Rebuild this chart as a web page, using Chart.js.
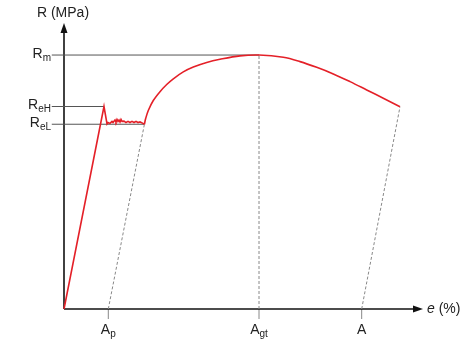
<!DOCTYPE html>
<html>
<head>
<meta charset="utf-8">
<script src="https://cdn.jsdelivr.net/npm/chart.js@4"></script>
<style>
  html, body { margin: 0; padding: 0; background: #fff; }
  #wrap { width: 469px; height: 341px; }
</style>
</head>
<body>
<div id="wrap"><canvas id="c" width="469" height="341"></canvas></div>
<script>
// Strain (e, arbitrary % units) and stress (R, arbitrary MPa units)
const elasticPlateauE = [0, 11.14, 11.98, 12.26, 12.81, 13.37, 13.65, 14.21, 14.48, 14.76, 15.04, 15.32, 15.60, 15.88, 16.16, 16.71, 17.27, 17.83, 18.38, 18.94, 19.50, 20.06, 20.61, 21.17, 22.01, 22.40];
const elasticPlateauR = [0, 70.8, 64.7, 65.2, 64.9, 65.6, 65.2, 66.1, 65.4, 66.3, 65.6, 66.1, 65.4, 66.3, 65.6, 65.7, 65.2, 65.6, 65.2, 65.6, 65.2, 65.6, 65.2, 65.4, 64.9, 64.6];
const hardeningE = [22.40, 22.75, 23.48, 24.87, 26.74, 28.61, 30.45, 33.23, 36.02, 39.75, 43.45, 49.03, 54.32, 61.09, 65.74, 70.39, 75.01, 79.67, 84.32, 88.94, 93.59];
const hardeningR = [64.6, 66.6, 69.4, 72.9, 76.0, 78.5, 80.5, 82.9, 84.6, 86.2, 87.3, 88.5, 88.8, 88.0, 86.5, 84.5, 82.2, 79.5, 76.6, 73.7, 70.7];

// Characteristic stresses
const stressNames = ['R', 'R', 'R'];
const stressSubs = ['m', 'eH', 'eL'];
const stressValues = [88.8, 70.8, 64.6];
const stressLineEnds = [54.32, 11.14, 22.40];

// Characteristic elongations (x tick labels)
const strainNames = ['A', 'A', 'A'];
const strainSubs = ['p', 'gt', ''];
const strainValues = [12.34, 54.32, 82.92];
const unloadFromE = [22.40, 54.32, 93.59];
const unloadFromR = [64.6, 88.8, 70.7];

const yAxisTitle = 'R (MPa)';
const xAxisTitleItalic = 'e';
const xAxisTitleRest = ' (%)';

const RED = 'rgb(228,32,40)';
const GUIDE = '#555';
const DASH = '#888';
const FONT = '"Liberation Sans", Arial, sans-serif';

function pts(xs, ys) { return xs.map((x, i) => ({ x: x, y: ys[i] })); }

const datasets = [];
datasets.push({ data: pts(elasticPlateauE, elasticPlateauR), borderColor: RED, borderWidth: 1.6, tension: 0, pointRadius: 0, order: 0, clip: false });
datasets.push({ data: pts(hardeningE, hardeningR), borderColor: RED, borderWidth: 1.6, tension: 0.35, pointRadius: 0, order: 0, clip: false });
stressValues.forEach((v, i) => {
  datasets.push({ data: [{ x: -3.4, y: v }, { x: stressLineEnds[i], y: v }], borderColor: GUIDE, borderWidth: 1, pointRadius: 0, order: 2, clip: false });
});
strainValues.forEach((v, i) => {
  datasets.push({ data: [{ x: v, y: 0 }, { x: unloadFromE[i], y: unloadFromR[i] }], borderColor: DASH, borderWidth: 1, borderDash: [3, 2], pointRadius: 0, order: 2, clip: false });
});

function drawSub(ctx, main, sub, x, y, align) {
  const mainFont = '14px ' + FONT;
  const subFont = '10px ' + FONT;
  ctx.font = mainFont;
  const wm = ctx.measureText(main).width;
  ctx.font = subFont;
  const ws = sub ? ctx.measureText(sub).width : 0;
  const total = wm + ws;
  let left = x;
  if (align === 'center') left = x - total / 2;
  else if (align === 'right') left = x - total;
  ctx.textAlign = 'left';
  ctx.textBaseline = 'middle';
  ctx.fillStyle = '#222';
  ctx.font = mainFont;
  ctx.fillText(main, left, y);
  if (sub) {
    ctx.font = subFont;
    ctx.fillText(sub, left + wm, y + 4);
  }
}

const decor = {
  id: 'decor',
  beforeDatasetsDraw(chart) {
    const ctx = chart.ctx;
    const xs = chart.scales.x, ys = chart.scales.y;
    const x0 = xs.getPixelForValue(0), y0 = ys.getPixelForValue(0);
    const xEnd = xs.getPixelForValue(100), yTop = ys.getPixelForValue(100);
    ctx.save();
    ctx.strokeStyle = DASH;
    ctx.lineWidth = 1;
    strainValues.forEach(v => {
      const px = xs.getPixelForValue(v);
      ctx.beginPath(); ctx.moveTo(px, y0); ctx.lineTo(px, y0 + 10); ctx.stroke();
    });
    ctx.strokeStyle = '#111';
    ctx.lineWidth = 1.6;
    ctx.beginPath(); ctx.moveTo(x0, y0); ctx.lineTo(xEnd - 8, y0); ctx.stroke();
    ctx.beginPath(); ctx.moveTo(x0, y0); ctx.lineTo(x0, yTop + 8); ctx.stroke();
    ctx.fillStyle = '#111';
    ctx.beginPath(); ctx.moveTo(xEnd, y0); ctx.lineTo(xEnd - 10, y0 - 3.5); ctx.lineTo(xEnd - 10, y0 + 3.5); ctx.closePath(); ctx.fill();
    ctx.beginPath(); ctx.moveTo(x0, yTop); ctx.lineTo(x0 - 3.5, yTop + 10); ctx.lineTo(x0 + 3.5, yTop + 10); ctx.closePath(); ctx.fill();
    ctx.restore();
  },
  afterDraw(chart) {
    const ctx = chart.ctx;
    const xs = chart.scales.x, ys = chart.scales.y;
    const x0 = xs.getPixelForValue(0), y0 = ys.getPixelForValue(0);
    const xEnd = xs.getPixelForValue(100);
    ctx.save();
    stressValues.forEach((v, i) => {
      drawSub(ctx, stressNames[i], stressSubs[i], x0 - 13, ys.getPixelForValue(v) - 1, 'right');
    });
    strainValues.forEach((v, i) => {
      drawSub(ctx, strainNames[i], strainSubs[i], xs.getPixelForValue(v), y0 + 21, 'center');
    });
    ctx.fillStyle = '#222';
    ctx.textBaseline = 'middle';
    ctx.textAlign = 'center';
    ctx.font = '14px ' + FONT;
    ctx.fillText(yAxisTitle, x0 - 1, 13);
    ctx.textAlign = 'left';
    ctx.font = 'italic 14px ' + FONT;
    const wi = ctx.measureText(xAxisTitleItalic).width;
    ctx.fillText(xAxisTitleItalic, xEnd + 4, y0);
    ctx.font = '14px ' + FONT;
    ctx.fillText(xAxisTitleRest, xEnd + 4 + wi, y0);
    ctx.restore();
  }
};

new Chart(document.getElementById('c'), {
  type: 'scatter',
  data: { datasets: datasets.map(d => Object.assign({ showLine: true, fill: false }, d)) },
  options: {
    responsive: false,
    animation: false,
    layout: { padding: { left: 64, right: 46, top: 23, bottom: 32 } },
    plugins: { legend: { display: false }, tooltip: { enabled: false } },
    scales: {
      x: { type: 'linear', min: 0, max: 100, display: false },
      y: { type: 'linear', min: 0, max: 100, display: false }
    }
  },
  plugins: [decor]
});
</script>
</body>
</html>
